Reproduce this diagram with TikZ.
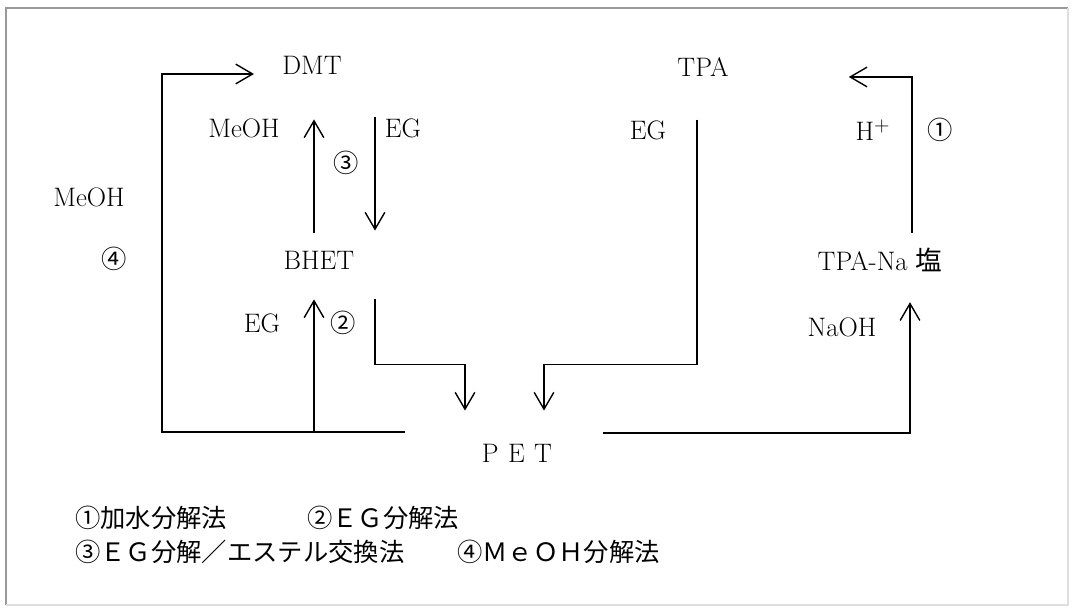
\documentclass[tikz,border=0pt]{standalone}
\usepackage{fontspec}
\newfontfamily\cjk{Noto Sans CJK JP}
\usetikzlibrary{arrows.meta,calc}

\tikzset{
  flow/.style={line width=1pt, -{Straight Barb[length=12pt,width=14pt,line width=1pt]}},
  chem/.style={font=\fontsize{19}{22}\selectfont, inner sep=0pt},
  num/.style={font=\cjk\fontsize{18}{20}\selectfont, inner sep=0pt},
  note/.style={font=\cjk\fontsize{18}{22}\selectfont, anchor=west, inner sep=0pt}
}

\begin{document}
\begin{tikzpicture}[x=0.025cm, y=-0.025cm]
\useasboundingbox (0,0) rectangle (1073,609);
\draw[gray!80, line width=1.2pt] (6,605) -- (6,8) -- (1068,8);
\draw[gray!25, line width=1pt] (1068,8) -- (1068,605) -- (6,605);

\node[chem] (dmt) at (312,65) {DMT};
\node[chem] (tpa) at (703,67) {TPA};
\node[chem] (bhet) at (319,260) {BHET};
\node[chem] (tpana) at (880,260) {TPA-Na {\cjk 塩}};
\node[chem] (pet) at (517,453) {P\hspace{0.35em}E\hspace{0.35em}T};

\node[chem] (meohA) at (244,128) {MeOH};
\node[chem] (egA) at (403,128) {EG};
\node[num] (nthree) at (346,163) {③};
\node[chem] (meohB) at (89,197) {MeOH};
\node[num] (nfour) at (114,259) {④};
\node[chem] (egB) at (262,323) {EG};
\node[num] (ntwo) at (343,323) {②};
\node[chem] (egC) at (648,130) {EG};
\node[chem] (hplus) at (873,130) {H$^{+}$};
\node[num] (none) at (940,130) {①};
\node[chem] (naoh) at (842,327) {NaOH};

\draw[flow] ($(bhet.north)+(-5,-18)$) -- ($(dmt.south)+(2,45)$);
\draw[flow] ($(dmt.south)+(63,43)$) -- ($(bhet.north)+(56,-20)$);
\draw[flow] ($(bhet.south)+(-5,162)$) -- ($(bhet.south)+(-5,30)$);
\draw[flow] ($(bhet.south)+(56,30)$) -- ++(0,65) -| ($(pet.north)+(-52,-33)$);
\draw[flow] ($(tpa.south)+(-6,43)$) -- ++(0,245) -| ($(pet.north)+(27,-33)$);
\draw[flow] ($(pet.west)+(-77,-21)$) -| ($(dmt.west)+(-120,9)$) -- ($(dmt.west)+(-28,9)$);
\draw[flow] ($(pet.east)+(51,-20)$) -| ($(tpana.south)+(30,30)$);
\draw[flow] ($(tpana.north)+(32,-15)$) |- ($(tpa.east)+(120,10)$);

\node[note] (legA) at (75,518) {①加水分解法};
\node[note] (legB) at (307,518) {②ＥＧ分解法};
\node[note] (legC) at (75,552) {③ＥＧ分解／エステル交換法};
\node[note] (legD) at (457,552) {④ＭｅＯＨ分解法};
\end{tikzpicture}
\end{document}
